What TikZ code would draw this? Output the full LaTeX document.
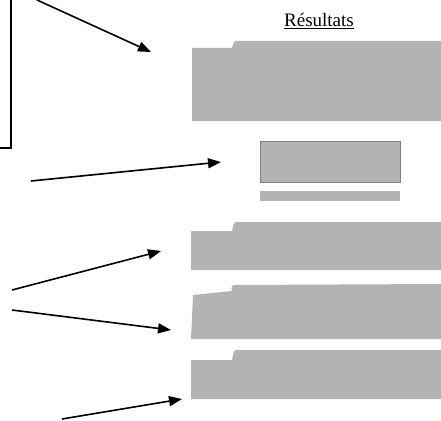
\documentclass[tikz,border=0pt]{standalone}
\usepackage{fontspec}
\setmainfont{Liberation Serif}
\usetikzlibrary{arrows.meta}
\definecolor{blockgray}{RGB}{179,179,179}
\definecolor{edgegray}{RGB}{128,128,128}
\begin{document}
\begin{tikzpicture}[x=1pt,y=-1pt,
  arr/.style={line width=1.6pt,-{Triangle[length=13pt,width=10pt]}},
  block/.style={fill=blockgray,draw=none},
  frame/.style={line width=1.4pt}]
\useasboundingbox (0,0) rectangle (441,420);
% left frame
\draw[frame] (11,0) -- (11,148) -- (0,148);
% title
\node[font=\fontsize{19}{21}\selectfont,inner sep=0pt] (title) at (319,21) {\underline{Résultats}};
% block 1
\path[block] (192,48) -- (232,48) .. controls (233,46) and (233,41) .. (236,41) -- (441,41) -- (441,121) -- (192,121) -- cycle;
% middle box and bar
\node[draw=edgegray,fill=blockgray,line width=1pt,minimum width=140pt,minimum height=41pt,inner sep=0pt] (mid) at (330,161.5) {};
\node[fill=blockgray,minimum width=140pt,minimum height=10pt,inner sep=0pt] (bar) at (330,196) {};
% block 2
\path[block] (191,231) -- (232,231) .. controls (233,228) and (233,222) .. (236,222) -- (441,222) -- (441,270) -- (191,270) -- cycle;
% block 3
\path[block] (193,295) -- (232,291) .. controls (231,288) and (231,285) .. (235,285) -- (441,284) -- (441,339) -- (191,339) -- cycle;
% block 4
\path[block] (191,360) -- (232,360) .. controls (233,357) and (233,350) .. (236,350) -- (441,350) -- (441,399) -- (191,399) -- cycle;
% arrows
\coordinate (a1s) at (37,0);    \coordinate (a1e) at (151,52);
\coordinate (a2s) at (31,181);  \coordinate (a2e) at (221,162);
\coordinate (a3s) at (12,290);  \coordinate (a3e) at (161,251);
\coordinate (a4s) at (12,310);  \coordinate (a4e) at (171,330);
\coordinate (a5s) at (62,419);  \coordinate (a5e) at (182,399);
\draw[arr] (a1s) -- (a1e);
\draw[arr] (a2s) -- (a2e);
\draw[arr] (a3s) -- (a3e);
\draw[arr] (a4s) -- (a4e);
\draw[arr] (a5s) -- (a5e);
\end{tikzpicture}
\end{document}
